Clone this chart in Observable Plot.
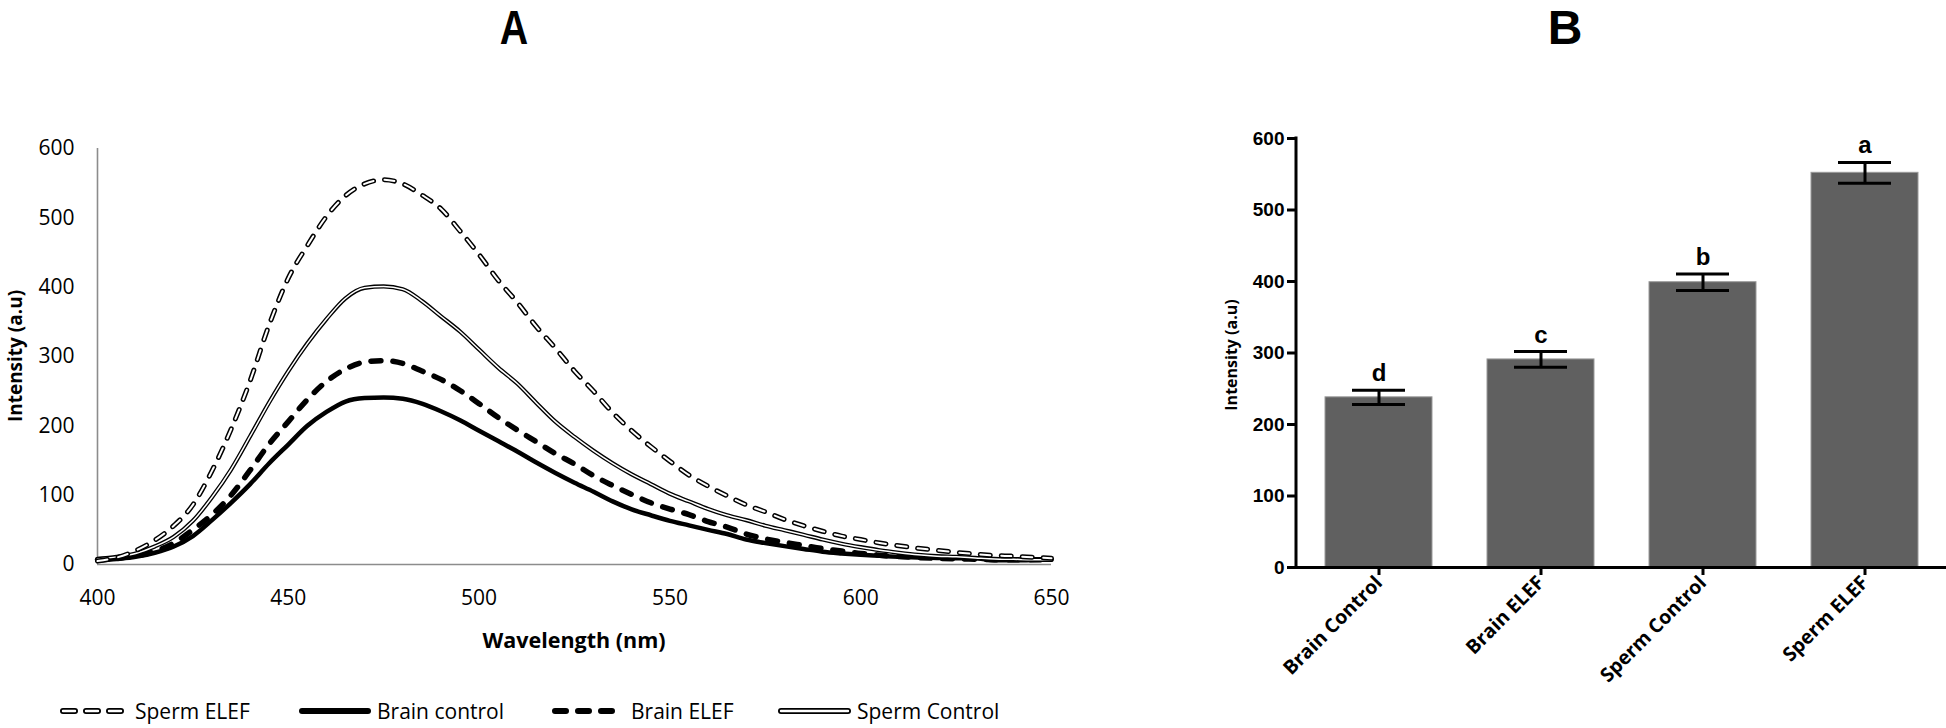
<!DOCTYPE html>
<html><head><meta charset="utf-8">
<script src="https://cdn.jsdelivr.net/npm/d3@7"></script>
<script src="https://cdn.jsdelivr.net/npm/@observablehq/plot@0.6"></script>
<style>
body{margin:0;background:#fff;}
#fig{position:relative;width:1946px;height:728px;overflow:hidden;background:#fff;font-family:"Open Sans",sans-serif;color:#000;}
.abs{position:absolute;white-space:nowrap;}
.lg{font-size:21px;line-height:28px;top:697px;}
.ttl{top:0;font-family:'Liberation Sans',Arial,sans-serif;font-weight:bold;font-size:48px;line-height:normal;}
</style></head><body>
<div id="fig">
  <div id="plotA" class="abs" style="left:0;top:0"></div>
  <div id="plotB" class="abs" style="left:1180px;top:0"></div>
  <div class="abs ttl" style="left:514px;transform:translateX(-50%) scaleX(0.82);">A</div>
  <div class="abs ttl" style="left:1565px;transform:translateX(-50%);">B</div>
  <div class="abs" style="left:15px;top:356px;font-weight:bold;font-size:19px;line-height:22px;transform:translate(-50%,-50%) rotate(-90deg);">Intensity (a.u)</div>
  <div class="abs" style="left:574px;top:640px;font-weight:bold;font-size:21.5px;line-height:26px;transform:translate(-50%,-50%);">Wavelength (nm)</div>
  <div class="abs" style="left:1231px;top:355px;font-weight:bold;font-size:16px;line-height:18px;transform:translate(-50%,-50%) rotate(-90deg);">Intensity (a.u)</div>
  <svg class="abs" style="left:0;top:696px" width="900" height="30">
    <line x1="63" x2="121" y1="15" y2="15" stroke="#000" stroke-width="6" stroke-dasharray="12 11" stroke-linecap="round"/>
    <line x1="63" x2="121" y1="15" y2="15" stroke="#fff" stroke-width="2.4" stroke-dasharray="12 11" stroke-linecap="round"/>
    <line x1="302" x2="368" y1="15" y2="15" stroke="#000" stroke-width="6" stroke-linecap="round"/>
    <line x1="555" x2="612" y1="15" y2="15" stroke="#000" stroke-width="6" stroke-dasharray="11 12" stroke-linecap="round"/>
    <line x1="781" x2="848" y1="15" y2="15" stroke="#000" stroke-width="6" stroke-linecap="round"/>
    <line x1="781" x2="848" y1="15" y2="15" stroke="#fff" stroke-width="2.4" stroke-linecap="round"/>
  </svg>
  <div class="abs lg" style="left:135px">Sperm ELEF</div>
  <div class="abs lg" style="left:377px">Brain control</div>
  <div class="abs lg" style="left:631px">Brain ELEF</div>
  <div class="abs lg" style="left:857px">Sperm Control</div>
</div>
<script>
// ---------- Panel A data ----------
const wavelength = [400,405,410,415,420,425,430,435,440,445,450,455,460,465,470,475,480,485,490,495,500,505,510,515,520,525,530,535,540,545,550,555,560,565,570,575,580,585,590,595,600,605,610,615,620,625,630,635,640,645,650];
const spermELEF = [5,10,20,35,56,86,135,195,265,346,413,460,502,532,549,555,549,533,513,481,447,410,378,343,312,279,250,219,193,170,149,129,113,99,86,76,65,56,48,41,36,31,27,23.5,20.5,17.5,15,13,12,10.5,9];
const spermControl = [8,11,16,26,40,63,97,137,185,234,279,319,354,384,399,401,397,380,358,336,310,284,261,233,206,184,164,146,130,116,102,91,80,71,64,56,49.5,43,36,30,25,20.5,17,14,12,11,9.5,8,7.5,7,7];
const brainELEF = [7,9,12,19,31,50,72,100,136,174,206,238,264,282,292,294,290,279,267,251,232,212,194,177,160,145,128,114,101,89,80,72,62,54,44,37,32,27.5,23,19.5,16,13.5,11.5,10,9,8.2,7.6,7,7,7,7];
const brainControl = [6,8,11,17,26,41,64,89,116,146,173,200,220,235,240,241,239,232,221,208,193,178,163,147,132,118,105,91,79.5,71,63,56.5,50,44,36,31,26.5,22.5,18.5,16,14,12.5,11,10,9.5,9,9,6,6,6.5,7];
const xTicksA = [400,450,500,550,600,650];
const yTicksA = [0,100,200,300,400,500,600];

// ---------- Panel B data ----------
const groups = ["Brain Control","Brain ELEF","Sperm Control","Sperm ELEF"];
const means = [238,291,399,552];
const errs = [10,11,11.5,14.5];
const letters = ["d","c","b","a"];
const yTicksB = [0,100,200,300,400,500,600];

const barData = groups.map((g,i)=>({group:g, mean:means[i], err:errs[i], letter:letters[i]}));

const curve = "monotone-x";
const chartA = Plot.plot({
  width: 1100, height: 680,
  marginLeft: 97, marginRight: 49, marginTop: 148, marginBottom: 116,
  style: {background: "transparent", overflow: "visible"},
  x: {domain: [xTicksA[0], xTicksA[xTicksA.length-1]]},
  y: {domain: [yTicksA[0], yTicksA[yTicksA.length-1]]},
  marks: [
    Plot.ruleY([yTicksA[0]], {stroke: "#8c8c8c", strokeWidth: 1.6}),
    Plot.ruleX([xTicksA[0]], {stroke: "#8c8c8c", strokeWidth: 1.6}),
    Plot.axisY({ticks: yTicksA, tickSize: 0, tickPadding: 23, fontSize: 21, fontFamily: "Open Sans", label: null}),
    Plot.axisX({ticks: xTicksA, tickSize: 0, tickPadding: 26, fontSize: 21, fontFamily: "Open Sans", label: null}),
    Plot.lineY(brainControl, {x: wavelength, curve, stroke: "#000", strokeWidth: 4.5}),
    Plot.lineY(brainELEF, {x: wavelength, curve, stroke: "#000", strokeWidth: 5.5, strokeDasharray: "10 12", strokeLinecap: "round"}),
    Plot.lineY(spermControl, {x: wavelength, curve, stroke: "#000", strokeWidth: 4.2}),
    Plot.lineY(spermControl, {x: wavelength, curve, stroke: "#fff", strokeWidth: 1.5}),
    Plot.lineY(spermELEF, {x: wavelength, curve, stroke: "#000", strokeWidth: 5, strokeDasharray: "10 11", strokeLinecap: "round"}),
    Plot.lineY(spermELEF, {x: wavelength, curve, stroke: "#fff", strokeWidth: 2, strokeDasharray: "10 11", strokeLinecap: "round"})
  ]
});
document.getElementById("plotA").appendChild(chartA);

const chartB = Plot.plot({
  width: 766, height: 728,
  marginLeft: 116, marginRight: 0, marginTop: 138, marginBottom: 161,
  style: {background: "transparent", overflow: "visible"},
  x: {domain: groups, paddingInner: 0.34, paddingOuter: 0.17},
  y: {domain: [yTicksB[0], yTicksB[yTicksB.length-1]]},
  marks: [
    Plot.barY(barData, {x: "group", y: "mean", fill: "#606060", stroke: "#9a9a9a", strokeWidth: 1}),
    Plot.ruleX(barData, {x: "group", y1: d => d.mean - d.err, y2: d => d.mean + d.err, stroke: "#000", strokeWidth: 3}),
    Plot.tickY(barData, {x: "group", y: d => d.mean + d.err, stroke: "#000", strokeWidth: 3, inset: 27}),
    Plot.tickY(barData, {x: "group", y: d => d.mean - d.err, stroke: "#000", strokeWidth: 3, inset: 27}),
    Plot.text(barData, {x: "group", y: d => d.mean + d.err, text: "letter", dy: -9, lineAnchor: "bottom", fontSize: 24, fontWeight: "bold", fontFamily: "Liberation Sans", fill: "#000"}),
    Plot.ruleY([yTicksB[0]], {stroke: "#000", strokeWidth: 3, insetLeft: -9}),
    Plot.axisY({ticks: yTicksB, tickSize: 9, tickPadding: 3, strokeWidth: 3, fontSize: 19, fontWeight: "bold", fontFamily: "Liberation Sans", label: null}),
    Plot.axisX({tickSize: 8, tickPadding: 4, strokeWidth: 3, tickRotate: -45, fontSize: 19.5, fontWeight: "bold", fontFamily: "Open Sans", label: null})
  ]
});
const ys = chartB.scale("y");
d3.select(chartB).append("line")
  .attr("x1", 116).attr("x2", 116)
  .attr("y1", ys.apply(yTicksB[0])).attr("y2", ys.apply(yTicksB[yTicksB.length-1]))
  .attr("stroke", "#000").attr("stroke-width", 3).attr("stroke-linecap", "square");
document.getElementById("plotB").appendChild(chartB);
</script>
</body></html>
